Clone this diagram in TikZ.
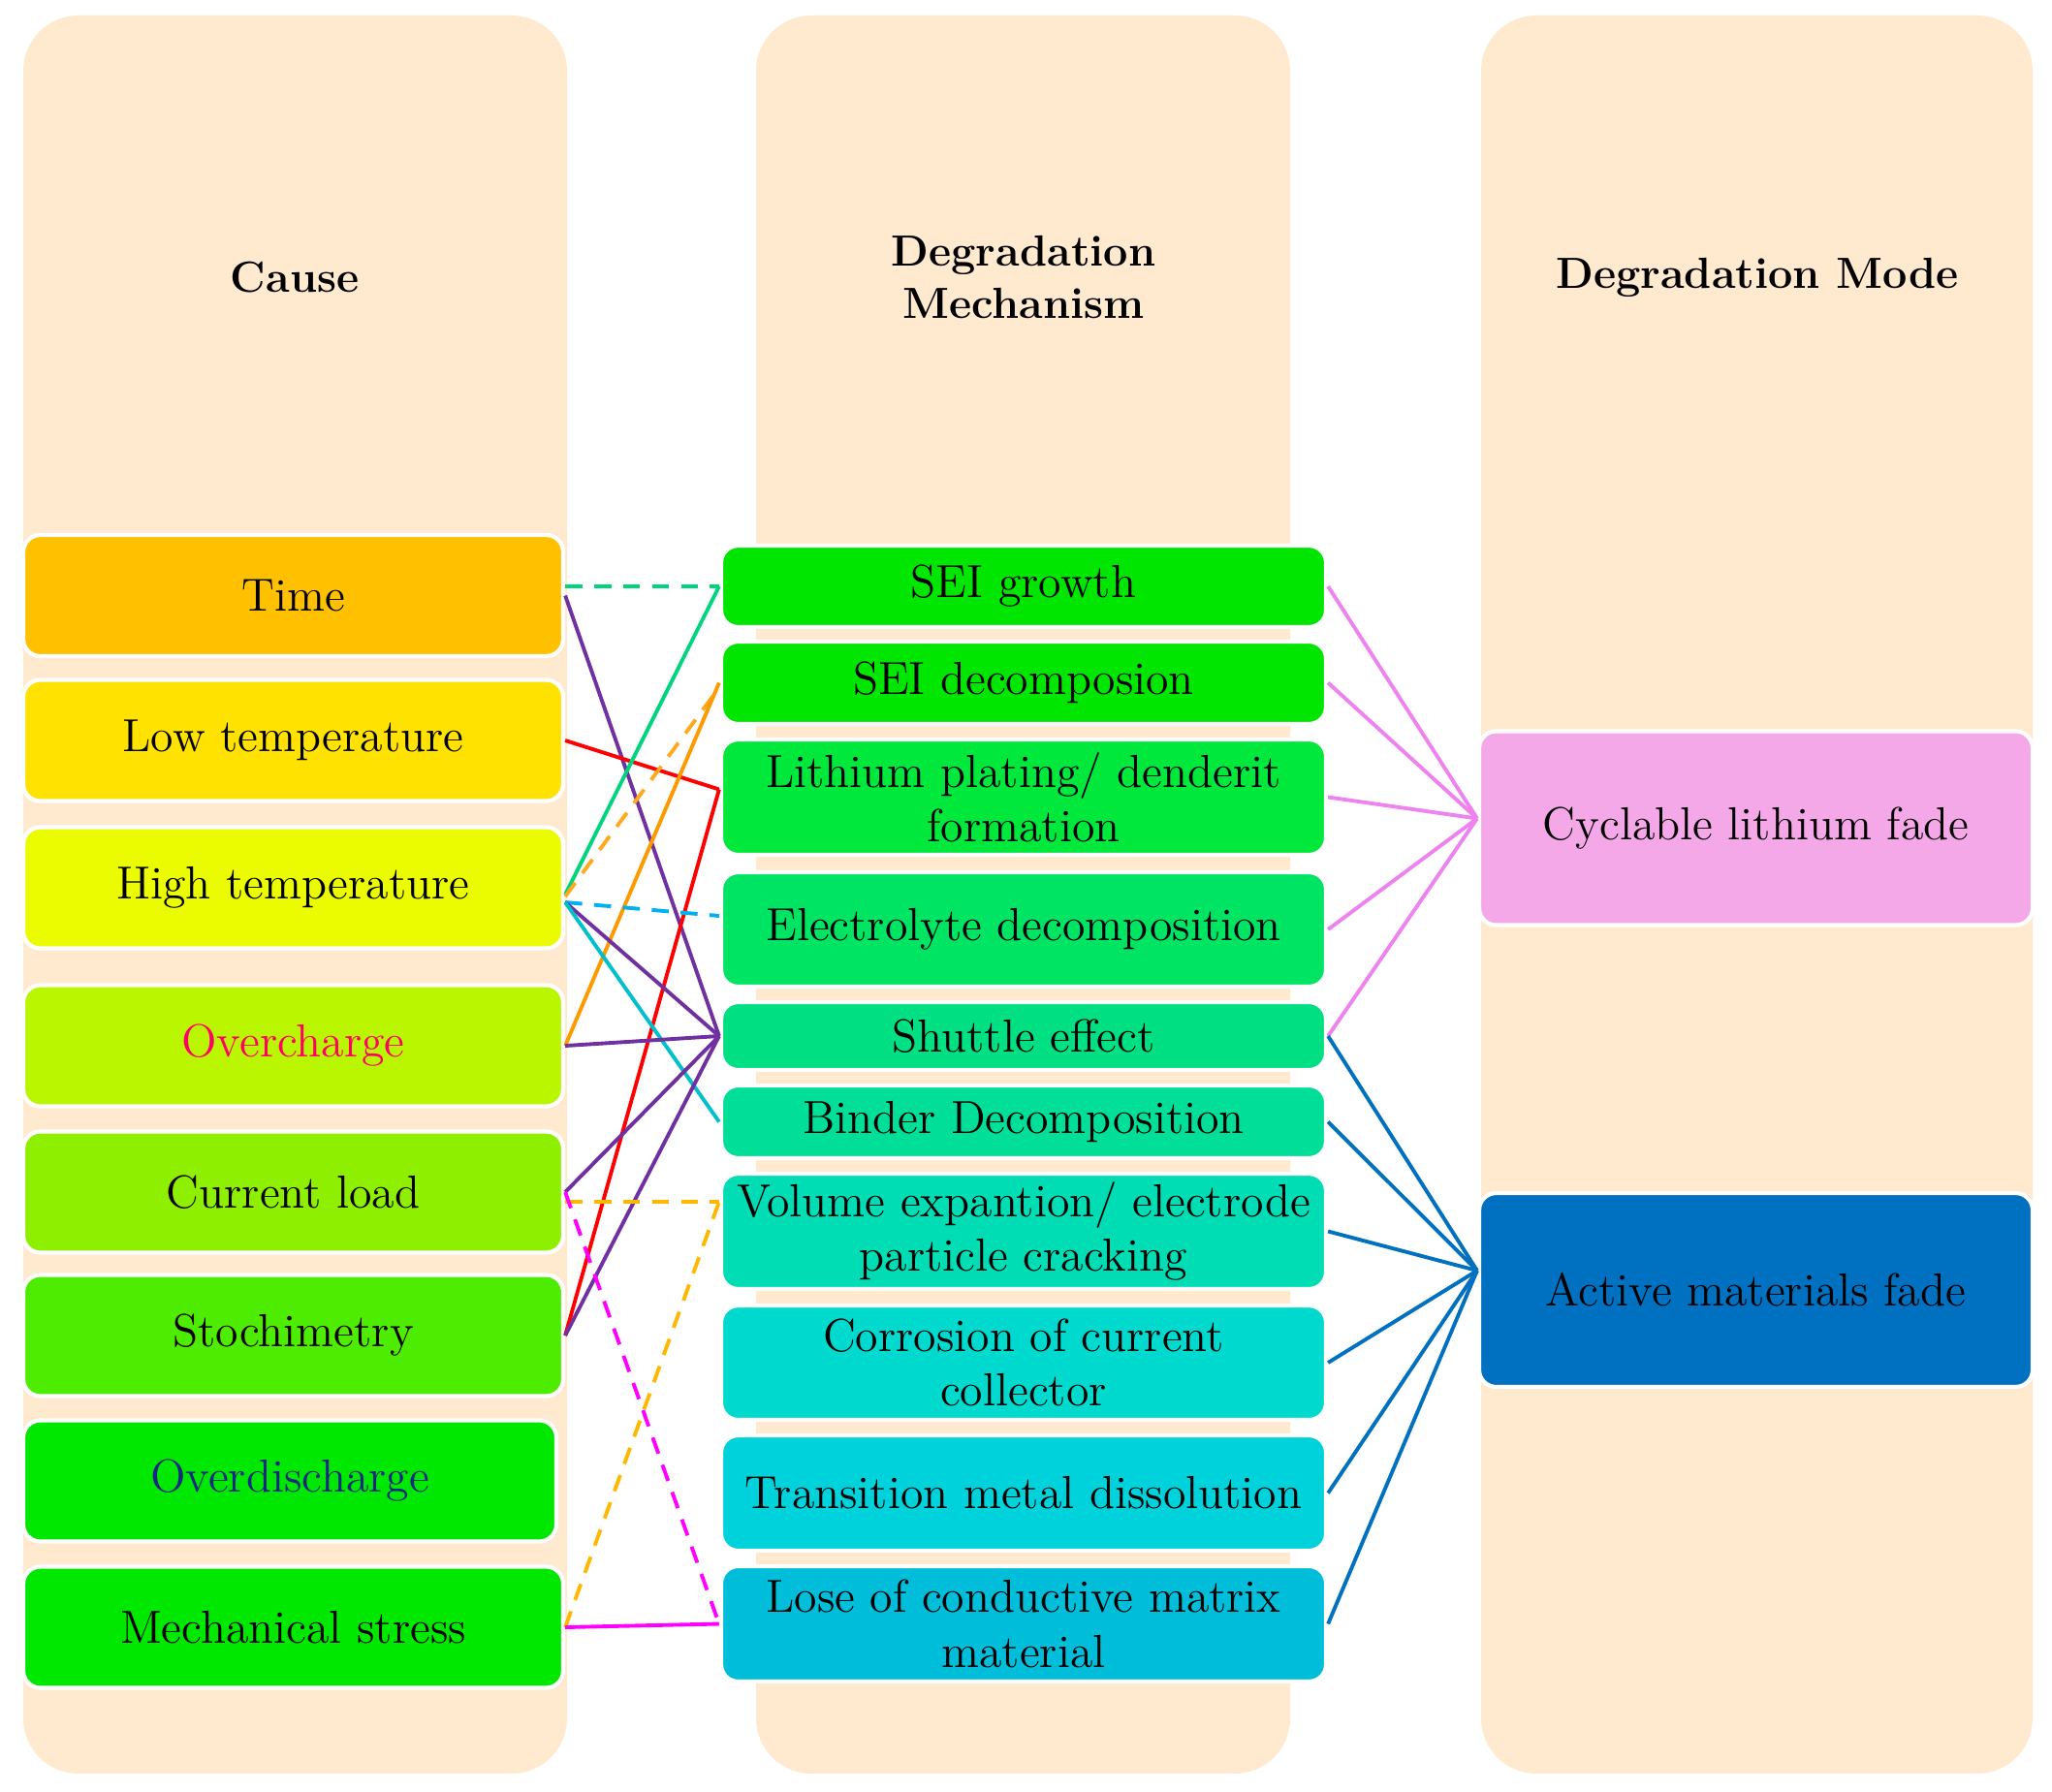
\documentclass[tikz,border=0pt]{standalone}
\usepackage{tikz}
\usepackage{xcolor}
\usetikzlibrary{calc}
\definecolor{colbg}{RGB}{255,233,207}
\definecolor{ctime}{RGB}{255,192,0}
\definecolor{clow}{RGB}{255,226,0}
\definecolor{chigh}{RGB}{236,252,0}
\definecolor{cover}{RGB}{186,246,0}
\definecolor{ccur}{RGB}{142,240,0}
\definecolor{cstoch}{RGB}{78,236,0}
\definecolor{cgreen}{RGB}{0,232,0}
\definecolor{msei}{RGB}{0,230,0}
\definecolor{mlip}{RGB}{0,232,60}
\definecolor{melec}{RGB}{0,228,100}
\definecolor{mshut}{RGB}{0,224,130}
\definecolor{mbind}{RGB}{0,222,152}
\definecolor{mvol}{RGB}{0,221,180}
\definecolor{mcorr}{RGB}{0,218,206}
\definecolor{mtrans}{RGB}{0,210,220}
\definecolor{mlose}{RGB}{0,190,218}
\definecolor{dcyc}{RGB}{245,168,232}
\definecolor{dact}{RGB}{0,112,192}
\definecolor{overtext}{RGB}{255,0,102}
\definecolor{distext}{RGB}{20,40,130}
\definecolor{lgreen}{RGB}{0,212,125}
\definecolor{lpurple}{RGB}{112,48,160}
\definecolor{lorange}{RGB}{255,153,0}
\definecolor{ldorange}{RGB}{255,170,30}
\definecolor{lyorange}{RGB}{255,184,0}
\definecolor{lblue}{RGB}{0,176,240}
\definecolor{lcyan}{RGB}{0,192,204}
\definecolor{lmagenta}{RGB}{255,0,255}
\definecolor{lpink}{RGB}{238,130,238}
\definecolor{lnavy}{RGB}{0,112,192}

\begin{document}
\begin{tikzpicture}[
	box/.style={rectangle,rounded corners=5pt,draw=white,line width=1.2pt,align=center,
		inner sep=2pt,font=\fontsize{13.6}{16}\selectfont},
	causebox/.style={box,minimum width=5.57cm,minimum height=1.25cm},
	mechbox/.style={box,minimum width=6.24cm},
	modebox/.style={box,minimum width=5.71cm,minimum height=2cm},
	head/.style={align=center,font=\fontsize{12.8}{15.5}\selectfont\bfseries},
	column/.style={fill=colbg,rounded corners=0.57cm},
	link/.style={line width=1.1pt},
	dlink/.style={line width=1.1pt,dash pattern=on 5pt off 3.5pt},
	]
	\useasboundingbox[fill=white] (0,0) rectangle (21.17,-18.48);

	%columns
	\fill[column] (0.24,-0.16) rectangle (5.85,-18.30);
	\fill[column] (7.80,-0.16) rectangle (13.31,-18.30);
	\fill[column] (15.28,-0.16) rectangle (20.97,-18.30);

	%headers
	\node[head] (hcause) at (3.04,-2.86) {Cause};
	\node[head] (hmech) at (10.56,-2.86) {Degradation\\Mechanism};
	\node[head] (hmode) at (18.13,-2.86) {Degradation Mode};

	%causes
	\node[causebox,fill=ctime] (time) at (3.025,-6.145) {Time};
	\node[causebox,fill=clow] (low) at (3.025,-7.64) {Low temperature};
	\node[causebox,fill=chigh] (high) at (3.025,-9.16) {High temperature};
	\node[causebox,fill=cover,text=overtext] (over) at (3.025,-10.79) {Overcharge};
	\node[causebox,fill=ccur] (cur) at (3.025,-12.30) {Current load};
	\node[causebox,fill=cstoch] (stoch) at (3.025,-13.78) {Stochimetry};
	\node[causebox,fill=cgreen,text=distext,minimum width=5.5cm] (dis) at (2.99,-15.28) {Overdischarge};
	\node[causebox,fill=cgreen] (mech) at (3.025,-16.79) {Mechanical stress};

	%mechanisms
	\node[mechbox,fill=msei,minimum height=0.84cm] (sei) at (10.56,-6.05) {SEI growth};
	\node[mechbox,fill=msei,minimum height=0.85cm] (seid) at (10.56,-7.045) {SEI decomposion};
	\node[mechbox,fill=mlip,minimum height=1.19cm] (lip) at (10.56,-8.225) {Lithium plating/ denderit\\formation};
	\node[mechbox,fill=melec,minimum height=1.18cm] (elec) at (10.56,-9.59) {Electrolyte decomposition};
	\node[mechbox,fill=mshut,minimum height=0.70cm] (shut) at (10.56,-10.69) {Shuttle effect};
	\node[mechbox,fill=mbind,minimum height=0.75cm] (bind) at (10.56,-11.575) {Binder Decomposition};
	\node[mechbox,fill=mvol,minimum height=1.19cm] (vol) at (10.56,-12.705) {Volume expantion/ electrode\\particle cracking};
	\node[mechbox,fill=mcorr,minimum height=1.18cm] (corr) at (10.56,-14.06) {Corrosion of current\\collector};
	\node[mechbox,fill=mtrans,minimum height=1.19cm] (trans) at (10.56,-15.405) {Transition metal dissolution};
	\node[mechbox,fill=mlose,minimum height=1.19cm] (lose) at (10.56,-16.755) {Lose of conductive matrix\\material};

	%modes
	\node[modebox,fill=dcyc] (cyc) at (18.115,-8.545) {Cyclable lithium fade};
	\node[modebox,fill=dact] (act) at (18.115,-13.31) {Active materials fade};

	%cause to mechanism
	\draw[dlink,lgreen] (sei.west -| time.east) -- (sei.west);
	\draw[link,lpurple] (time.east) -- (shut.west);
	\draw[link,red] (low.east) -- ([yshift=0.08cm]lip.west);
	\draw[link,red] (stoch.east) -- ([yshift=0.08cm]lip.west);
	\draw[link,lgreen] ([yshift=-0.07cm]high.east) -- (sei.west);
	\draw[dlink,ldorange] ([yshift=-0.09cm]high.east) -- ([yshift=-0.05cm]seid.west);
	\draw[link,lorange] (over.east) -- (seid.west);
	\draw[dlink,lblue] ([yshift=-0.15cm]high.east) -- ([yshift=0.14cm]elec.west);
	\draw[link,lpurple] ([yshift=-0.15cm]high.east) -- (shut.west);
	\draw[link,lcyan] ([yshift=-0.15cm]high.east) -- (bind.west);
	\draw[link,lpurple] (over.east) -- (shut.west);
	\draw[link,lpurple] (cur.east) -- (shut.west);
	\draw[link,lpurple] (stoch.east) -- (shut.west);
	\coordinate (volin) at ([yshift=-0.1cm]cur.east -| vol.west);
	\draw[dlink,lyorange] ([yshift=-0.1cm]cur.east) -- (volin);
	\draw[dlink,lyorange] (mech.east) -- (volin);
	\draw[dlink,lmagenta] (cur.east) -- (lose.west);
	\draw[link,lmagenta] (mech.east) -- (lose.west);

	%mechanism to mode
	\coordinate (cycin) at ([yshift=0.1cm]cyc.west);
	\coordinate (actin) at ([yshift=0.2cm]act.west);
	\foreach \m in {sei,seid,lip,elec,shut}
		\draw[line width=1.1pt,lpink] (\m.east) -- (cycin);
	\foreach \m in {shut,bind,vol,corr,trans,lose}
		\draw[line width=1.1pt,lnavy] (\m.east) -- (actin);
\end{tikzpicture}
\end{document}
